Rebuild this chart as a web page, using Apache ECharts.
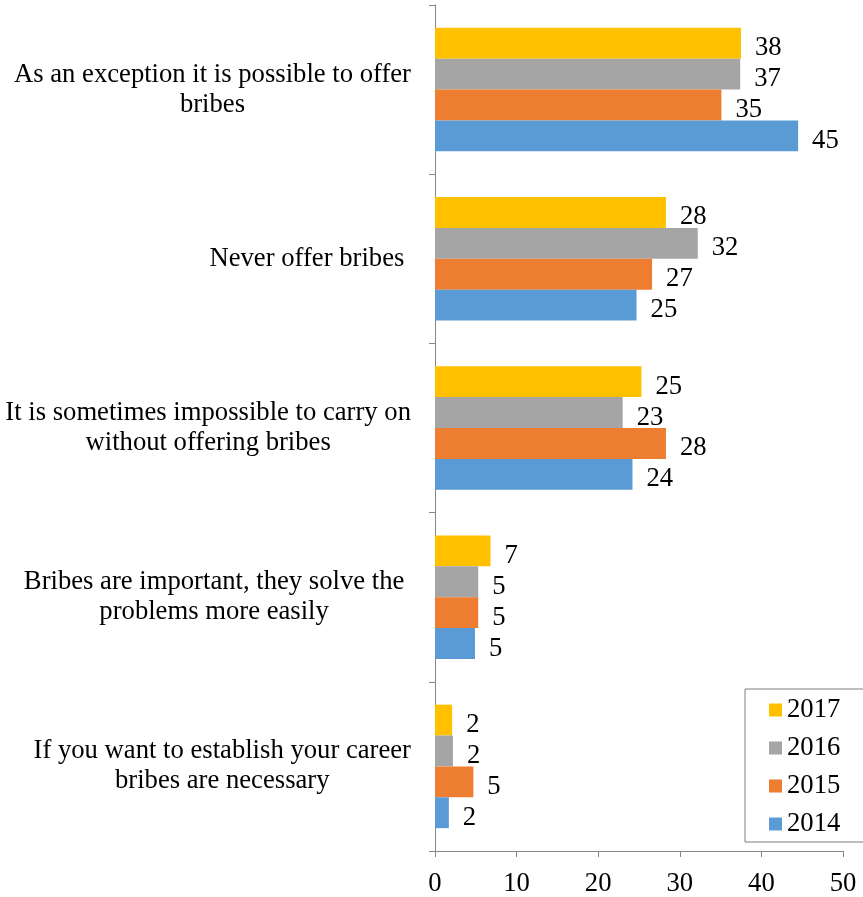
<!DOCTYPE html>
<html>
<head>
<meta charset="utf-8">
<script src="https://cdn.jsdelivr.net/npm/echarts@6/dist/echarts.min.js"></script>
<style>
html,body{margin:0;padding:0;background:#fff;}
#chart{width:863px;height:897px;}
</style>
</head>
<body>
<div id="chart"></div>
<script>
var categories = [
  'As an exception it is possible to offer\nbribes',
  'Never offer bribes ',
  'It is sometimes impossible to carry on\nwithout offering bribes',
  'Bribes are important, they solve the \nproblems more easily ',
  'If you want to establish your career\nbribes are necessary'
];
var seriesNames = ['2017', '2016', '2015', '2014'];
var v2017 = [37.5, 28.3, 25.3, 6.8, 2.1];
var v2016 = [37.4, 32.2, 23.0, 5.3, 2.2];
var v2015 = [35.1, 26.6, 28.3, 5.3, 4.7];
var v2014 = [44.5, 24.7, 24.2, 4.9, 1.7];
var colors = ['#FFC000', '#A5A5A5', '#ED7D31', '#5B9BD5'];
var xTicks = [0, 10, 20, 30, 40, 50];

var FONT = "'Liberation Serif', 'Times New Roman', serif";
var FS = 26.67;
var allValues = [v2017, v2016, v2015, v2014];

var series = seriesNames.map(function (name, i) {
  return {
    name: name,
    type: 'bar',
    data: allValues[i],
    barGap: '0%',
    barCategoryGap: '27%',
    itemStyle: { color: colors[i] },
    label: {
      show: true,
      position: 'right',
      distance: 14,
      offset: [0, 5],
      color: '#000',
      fontFamily: FONT,
      fontSize: FS,
      formatter: function (p) { return String(Math.round(p.value)); }
    }
  };
});

var chart = echarts.init(document.getElementById('chart'));
chart.setOption({
  animation: false,
  backgroundColor: '#fff',
  grid: { left: 435, right: 20, top: 5, bottom: 45, containLabel: false },
  legend: {
    data: seriesNames,
    orient: 'vertical',
    left: 745,
    top: 689,
    padding: [6, 30, 3, 24],
    itemGap: 8,
    itemWidth: 13,
    itemHeight: 13,
    icon: 'rect',
    borderColor: '#7f7f7f',
    borderWidth: 1,
    backgroundColor: '#fff',
    textStyle: { fontFamily: FONT, fontSize: FS, lineHeight: 30, color: '#000' }
  },
  xAxis: {
    type: 'value',
    min: xTicks[0],
    max: xTicks[xTicks.length - 1],
    interval: 10,
    splitLine: { show: false },
    axisLine: { show: true, lineStyle: { color: '#868686', width: 1 } },
    axisTick: { show: true, length: 6, lineStyle: { color: '#868686' } },
    axisLabel: { color: '#000', fontFamily: FONT, fontSize: FS, margin: 19 }
  },
  yAxis: {
    type: 'category',
    inverse: true,
    data: categories,
    axisLine: { show: true, lineStyle: { color: '#868686', width: 1 } },
    axisTick: { show: true, length: 6, alignWithLabel: false, lineStyle: { color: '#868686' } },
    axisLabel: {
      color: '#000', fontFamily: FONT, fontSize: FS, lineHeight: 30,
      align: 'right', margin: 24,
      formatter: function (v) {
        return v.split('\n').map(function (l) { return '{c|' + l + '}'; }).join('\n');
      },
      rich: {
        c: { align: 'center', color: '#000', fontFamily: FONT, fontSize: FS, lineHeight: 30 }
      }
    }
  },
  series: series
});
</script>
</body>
</html>
